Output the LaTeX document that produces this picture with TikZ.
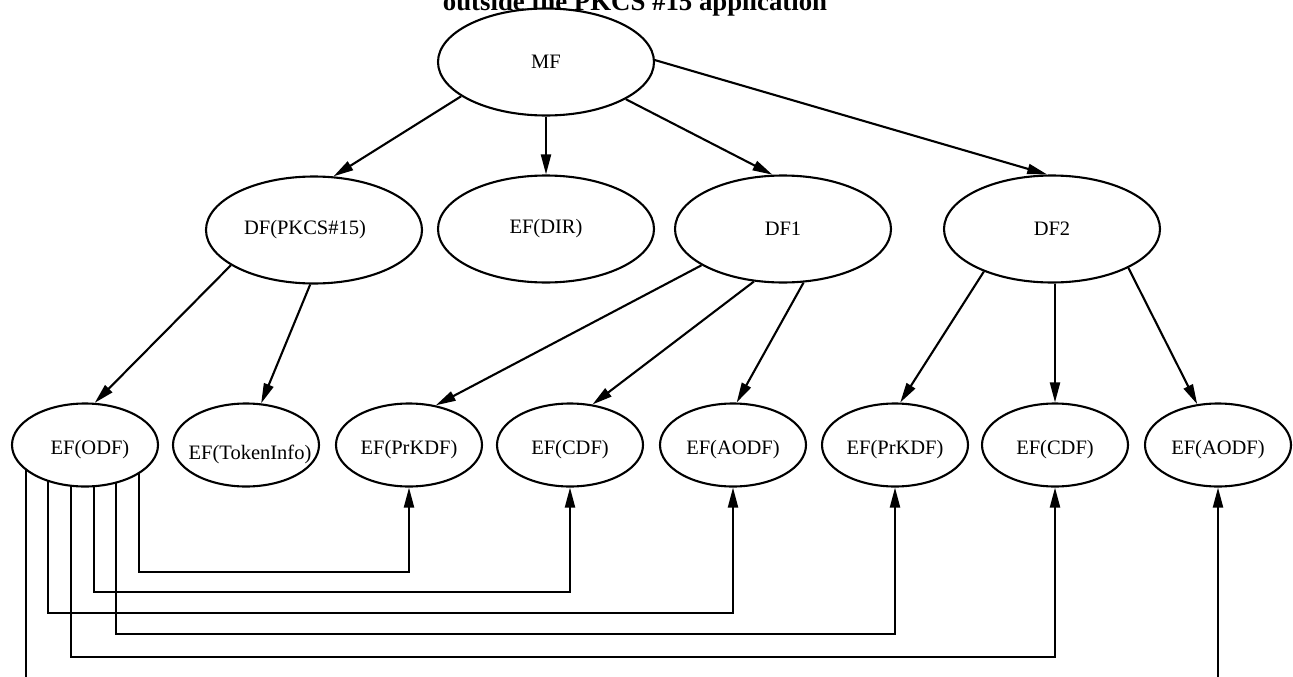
\documentclass[tikz,border=0pt]{standalone}
\usepackage{fontspec}
\setmainfont{Liberation Serif}
\usetikzlibrary{shapes.geometric,arrows.meta,backgrounds}
\newcommand\dgfont{\fontsize{20.5}{24}\selectfont}
\begin{document}
\begin{tikzpicture}[x=1pt,y=-1pt,
  bigell/.style={ellipse, draw, line width=2.1pt, fill=white, inner sep=0pt,
    minimum width=216pt, minimum height=107pt, font=\dgfont},
  smallell/.style={ellipse, draw, line width=2.1pt, fill=white, inner sep=0pt,
    minimum width=146pt, minimum height=83pt, font=\dgfont,
    text height=22pt, text depth=3.7pt},
  heading/.style={font=\bfseries\fontsize{26.8}{30}\selectfont, anchor=base, inner sep=0pt},
  arr/.style={line width=2.1pt, -{Triangle[length=20pt,width=10pt]}}
]
\useasboundingbox (0,0) rectangle (1293,677);

% heading
\node[heading] (title) at (635,11) {outside the PKCS \#15 application};

% top level and directory files
\node[bigell] (MF)  at (546,62)   {MF};
\node[bigell] (DFp) at (314,230)  {\hspace*{-18pt}DF(PKCS\#15)};
\node[bigell] (DIR) at (546,229)  {EF(DIR)};
\node[bigell] (DF1) at (783,229)  {DF1};
\node[bigell] (DF2) at (1052,229) {DF2};

% elementary files
\node[smallell] (ODF)   at (85,445)   {\hspace*{10pt}EF(ODF)};
\node[smallell, text height=32pt] (Tok) at (246,445) {\makebox[0pt]{\hspace*{8pt}EF(TokenInfo)}};
\node[smallell] (PrK1)  at (409,445)  {EF(PrKDF)};
\node[smallell] (CDF1)  at (570,445)  {EF(CDF)};
\node[smallell] (AODF1) at (733,445)  {EF(AODF)};
\node[smallell] (PrK2)  at (895,445)  {EF(PrKDF)};
\node[smallell] (CDF2)  at (1055,445) {EF(CDF)};
\node[smallell] (AODF2) at (1218,445) {EF(AODF)};

% hierarchy
\draw[arr] (MF.202) -- (DFp.70);
\draw[arr] (MF.south) -- (DIR.north);
\draw[arr] (MF.-25) -- (DF1.101);
\draw[arr] (MF.1) -- (DF2.95);
\draw[arr] (DFp.203) -- (ODF.77);
\draw[arr] (DFp.266) -- (Tok.70);
\draw[arr] (DF1.204) -- (PrK1.56);
\draw[arr] (DF1.241) -- (CDF1.61);
\draw[arr] (DF1.291) -- (AODF1.85);
\draw[arr] (DF2.212) -- (PrK2.83);
\draw[arr] (DF2.south -| CDF2.north) -- (CDF2.north);
\draw[arr] (DF2.333) -- (AODF2.117);

% references held in the ODF
\begin{scope}[on background layer]
  \draw[arr] ([xshift=54pt]ODF.center)  -- ++(0,127) -| (PrK1.south);
  \draw[arr] ([xshift=9pt]ODF.center)   -- ++(0,147) -| (CDF1.south);
  \draw[arr] ([xshift=-37pt]ODF.center) -- ++(0,168) -| (AODF1.south);
  \draw[arr] ([xshift=31pt]ODF.center)  -- ++(0,189) -| (PrK2.south);
  \draw[arr] ([xshift=-14pt]ODF.center) -- ++(0,212) -| (CDF2.south);
  \draw[arr] ([xshift=-59pt]ODF.center) -- ++(0,245) -| (AODF2.south);
\end{scope}
\end{tikzpicture}
\end{document}
